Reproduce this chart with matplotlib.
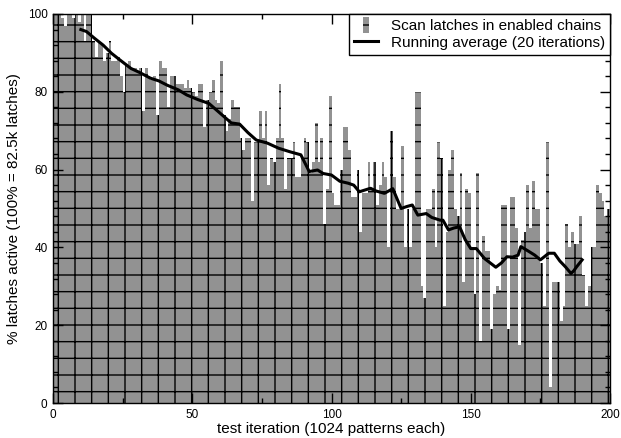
import matplotlib
matplotlib.use('Agg')
import matplotlib.pyplot as plt
import matplotlib.patches as mpatches
from matplotlib.legend_handler import HandlerPatch
import numpy as np

plt.rcParams['font.family'] = ['Liberation Sans', 'DejaVu Sans']
plt.rcParams['hatch.color'] = 'black'
plt.rcParams['hatch.linewidth'] = 1.0

# % of scan latches active per test iteration
latches = [
    100, 100, 100, 99, 97, 100, 100, 99, 100, 98,
    100, 93, 100, 100, 93, 89, 93, 92, 88, 90,
    93, 88, 88, 89, 84, 80, 87, 88, 86, 86,
    85, 86, 75, 86, 84, 83, 84, 74, 88, 86,
    86, 76, 84, 84, 82, 82, 82, 81, 83, 81,
    80, 79, 82, 82, 71, 78, 80, 83, 78, 77,
    88, 74, 70, 73, 78, 76, 76, 68, 65, 68,
    68, 52, 67, 67, 75, 68, 75, 56, 63, 62,
    68, 82, 68, 55, 63, 63, 67, 58, 58, 63,
    68, 67, 59, 62, 72, 62, 68, 46, 55, 79,
    54, 51, 51, 60, 71, 71, 65, 53, 53, 60,
    44, 54, 54, 62, 55, 62, 51, 56, 62, 58,
    40, 70, 58, 50, 50, 66, 40, 50, 40, 50,
    80, 80, 30, 27, 50, 50, 55, 40, 67, 63,
    25, 44, 60, 65, 50, 48, 59, 31, 55, 54,
    40, 28, 59, 16, 43, 39, 39, 19, 28, 30,
    29, 51, 51, 19, 53, 53, 45, 15, 42, 44,
    56, 45, 57, 50, 50, 36, 25, 67, 4, 31,
    31, 31, 21, 25, 46, 40, 44, 41, 41, 48,
    33, 25, 30, 40, 40, 56, 54, 52, 48, 50,
]
iterations = np.arange(len(latches))

# running average (20 iterations)
avg_iter = [10, 12, 15, 18, 21, 24, 28, 31, 35, 38, 41, 45, 48, 52, 56, 60,
            64, 67, 70, 73, 77, 81, 85, 89, 92, 95, 97, 100, 103, 106, 108,
            110, 114, 116, 119, 122, 125, 127, 129, 131, 134, 136, 139, 140,
            142, 144, 146, 148, 150, 152, 155, 157, 159, 161, 163, 165, 167,
            168, 171, 173, 175, 178, 180, 182, 184, 186, 187, 188, 190]
avg_pct = [96.0, 95.5, 93.7, 92.0, 89.9, 88.2, 86.0, 85.0, 83.5, 82.8, 81.7,
           80.5, 79.2, 78.0, 77.0, 74.5, 72.0, 71.7, 69.5, 67.6, 66.8, 65.5,
           64.6, 63.8, 59.5, 59.9, 59.0, 58.6, 57.0, 56.5, 56.0, 54.3, 55.2,
           54.5, 53.9, 55.1, 50.0, 50.5, 50.9, 48.3, 48.7, 47.7, 47.0, 47.0,
           44.5, 45.0, 45.3, 42.0, 39.7, 39.7, 37.1, 36.0, 34.9, 36.0, 37.6,
           37.5, 38.0, 40.2, 38.9, 38.0, 36.8, 38.5, 38.5, 36.5, 35.0, 33.3,
           34.0, 35.0, 36.8]

fig = plt.figure(figsize=(6.21, 4.38), dpi=100)
ax = fig.add_axes([53 / 621, 35 / 438, 557 / 621, 389 / 438])

ax.bar(iterations, latches, width=1.0, align='edge', color='#929292',
       hatch='+', linewidth=0, zorder=1)
line, = ax.plot(avg_iter, avg_pct, color='black', linewidth=2.2, zorder=2)

ax.set_xlim(0, 200)
ax.set_ylim(0, 100)
ax.set_xticks([0, 50, 100, 150, 200])
ax.set_xticks([25, 75, 125, 175], minor=True)
ax.set_yticks(range(0, 101, 20))
ax.set_yticks(range(0, 101, 4), minor=True)
ax.tick_params(which='both', direction='in', top=True, right=True, width=1,
               labelsize=8.5, pad=4)
ax.tick_params(which='major', length=7)
ax.tick_params(which='minor', length=3.5)
for s in ax.spines.values():
    s.set_linewidth(1.0)
    s.set_zorder(5)

ax.set_xlabel('test iteration (1024 patterns each)', fontsize=11)
ax.xaxis.set_label_coords(0.5, -0.048)
ax.set_ylabel('% latches active (100% = 82.5k latches)', fontsize=11)
ax.yaxis.set_label_coords(-0.058, 0.5)


def narrow_bar(legend, orig_handle, xdescent, ydescent, width, height, fontsize):
    return mpatches.Rectangle((xdescent + width / 2 - 2, -ydescent - 2), 4,
                              height + 4)


bar_handle = mpatches.Rectangle((0, 0), 1, 1, facecolor='#929292', hatch='+',
                                linewidth=0)
leg = ax.legend([bar_handle, line],
                ['Scan latches in enabled chains', 'Running average (20 iterations)'],
                loc='upper right', bbox_to_anchor=(1, 1), borderaxespad=0,
                fancybox=False, framealpha=1, edgecolor='black', fontsize=11,
                handlelength=1.6, handletextpad=0.8, borderpad=0.35,
                labelspacing=0.15,
                handler_map={bar_handle: HandlerPatch(patch_func=narrow_bar)})
leg.get_frame().set_linewidth(1.0)
leg.set_zorder(10)

fig.savefig('out.png', dpi=100)
